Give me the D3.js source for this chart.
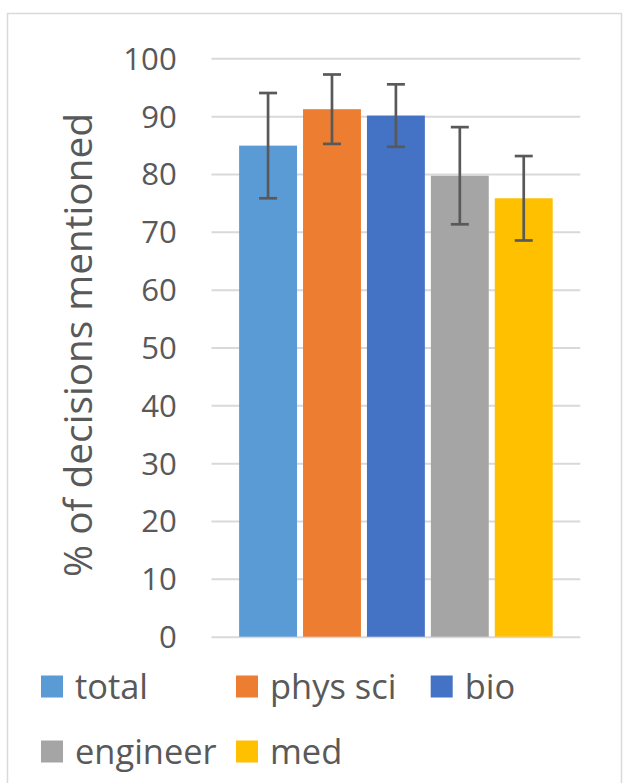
<!DOCTYPE html>
<html>
<head>
<meta charset="utf-8">
<script src="https://cdn.jsdelivr.net/npm/d3@7"></script>
<style>
  body { margin: 0; background: #fff; }
  svg { display: block; }
</style>
</head>
<body>
<div id="chart"></div>
<script>
// chart data
const series = ['total', 'phys sci', 'bio', 'engineer', 'med']
const values = [84.9, 91.2, 90.1, 79.7, 75.8]
const errors = [9.1, 6.0, 5.4, 8.4, 7.3]
const colors = ['#5b9bd5', '#ed7d31', '#4472c4', '#a5a5a5', '#ffc000']
const yTicks = [0, 10, 20, 30, 40, 50, 60, 70, 80, 90, 100]
const yTitle = '% of decisions mentioned'

const width = 623, height = 783
const font = '"Open Sans", "DejaVu Sans", sans-serif'
const textColor = '#595959'
const plot = {left: 211.5, right: 580.3, top: 58.3, bottom: 636.7}

let svg = d3.select('#chart').append('svg')
  .attr('width', width)
  .attr('height', height)

// outer border
svg.append('rect')
  .attr('x', 7.5).attr('y', 13.5)
  .attr('width', 614).attr('height', 800)
  .attr('fill', 'none')
  .attr('stroke', '#d9d9d9')
  .attr('stroke-width', 1.5)

// finds a font size so that text has the wanted width
function fitSize(text, target) {
  let t = svg.append('text').attr('font-family', font).attr('font-size', 100).text(text)
  let w = t.node().getComputedTextLength()
  t.remove()
  return 100 * target / w
}
let tickSize = fitSize('100', 53.4)
let legendSize = fitSize('engineer', 141.7)
let titleSize = fitSize(yTitle, 464)

let x = d3.scaleBand()
  .domain(series)
  .range([plot.left, plot.right])
  .paddingInner(0.094)
  .paddingOuter(0.432)

let y = d3.scaleLinear()
  .domain([0, 100])
  .range([plot.bottom, plot.top])

// gridlines + tick labels
let axis = svg.append('g')
  .attr('transform', 'translate(' + plot.left + ',0)')
  .call(d3.axisLeft(y)
    .tickValues(yTicks)
    .tickSizeInner(-(plot.right - plot.left))
    .tickSizeOuter(0)
    .tickPadding(34.8))
axis.select('.domain').remove()
axis.selectAll('.tick line')
  .attr('stroke', '#d9d9d9')
  .attr('stroke-width', 2)
axis.selectAll('.tick text')
  .attr('fill', textColor)
  .attr('font-family', font)
  .attr('font-size', tickSize)
  .attr('dy', '0.35em')

// bars
svg.selectAll('.bar')
  .data(series)
  .enter().append('rect')
  .attr('class', 'bar')
  .attr('x', d => x(d))
  .attr('width', x.bandwidth())
  .attr('y', (d, i) => y(values[i]))
  .attr('height', (d, i) => y(0) - y(values[i]))
  .attr('fill', (d, i) => colors[i])

// error bars
let capW = 18
let err = svg.selectAll('.err')
  .data(series)
  .enter().append('g')
  .attr('class', 'err')
  .attr('stroke', '#595959')
  .attr('stroke-width', 2.7)
err.append('line')
  .attr('x1', d => x(d) + x.bandwidth() / 2)
  .attr('x2', d => x(d) + x.bandwidth() / 2)
  .attr('y1', (d, i) => y(values[i] + errors[i]))
  .attr('y2', (d, i) => y(values[i] - errors[i]))
err.append('line')
  .attr('x1', d => x(d) + x.bandwidth() / 2 - capW / 2)
  .attr('x2', d => x(d) + x.bandwidth() / 2 + capW / 2)
  .attr('y1', (d, i) => y(values[i] + errors[i]))
  .attr('y2', (d, i) => y(values[i] + errors[i]))
err.append('line')
  .attr('x1', d => x(d) + x.bandwidth() / 2 - capW / 2)
  .attr('x2', d => x(d) + x.bandwidth() / 2 + capW / 2)
  .attr('y1', (d, i) => y(values[i] - errors[i]))
  .attr('y2', (d, i) => y(values[i] - errors[i]))

// y axis title
svg.append('text')
  .attr('transform', 'translate(92,345) rotate(-90)')
  .attr('text-anchor', 'middle')
  .attr('fill', textColor)
  .attr('font-family', font)
  .attr('font-size', titleSize)
  .text(yTitle)

// legend, 3 columns
let colX = [41, 236, 430.7]
let rowY = [686.5, 751.5]
let item = svg.selectAll('.legend')
  .data(series)
  .enter().append('g')
  .attr('class', 'legend')
  .attr('transform', (d, i) => 'translate(' + colX[i % 3] + ',' + rowY[Math.floor(i / 3)] + ')')
item.append('rect')
  .attr('x', 0).attr('y', -11)
  .attr('width', 22).attr('height', 22)
  .attr('fill', (d, i) => colors[i])
item.append('text')
  .attr('x', 34)
  .attr('dy', '0.35em')
  .attr('fill', textColor)
  .attr('font-family', font)
  .attr('font-size', legendSize)
  .text(d => d)
</script>
</body>
</html>
